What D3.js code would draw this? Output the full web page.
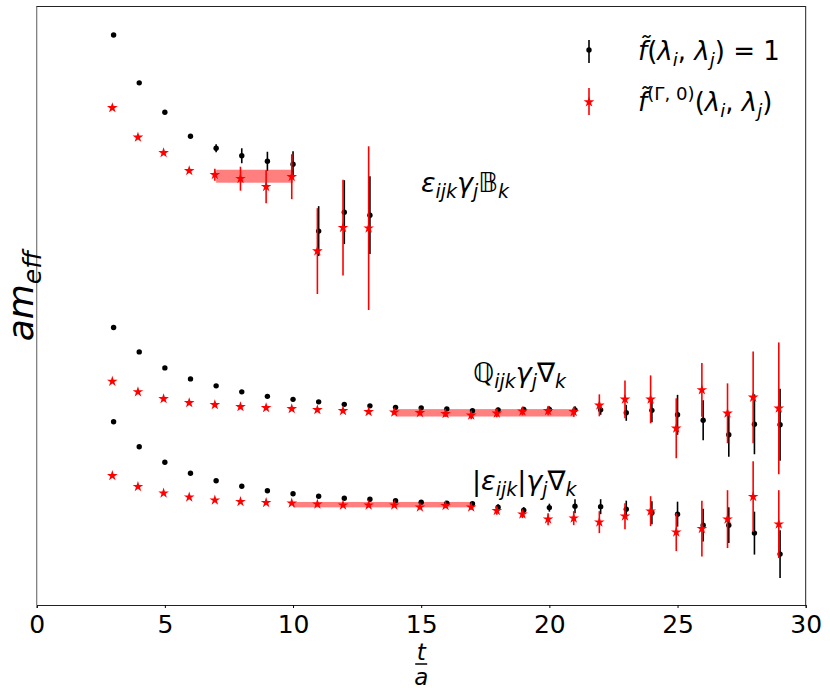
<!DOCTYPE html>
<html><head><meta charset="utf-8">
<script src="https://cdn.jsdelivr.net/npm/d3@7"></script>
<style>html,body{margin:0;padding:0;background:#fff;} svg{display:block;font-family:'DejaVu Sans',sans-serif;}</style>
</head><body>
<script>
// ---- data ----
const tB = [3,4,5,6,7,8,9,10,11,12,13];
const B_black = [1.442,1.346,1.287,1.239,1.215,1.200,1.189,1.183,1.049,1.087,1.081];
const B_black_err = [0.002,0.002,0.002,0.003,0.008,0.015,0.019,0.026,0.050,0.064,0.078];
const B_red = [1.296,1.237,1.206,1.170,1.162,1.154,1.138,1.158,1.009,1.056,1.055];
const B_red_err = [0.002,0.002,0.003,0.004,0.012,0.024,0.033,0.045,0.086,0.096,0.164];

const tQ = [3,4,5,6,7,8,9,10,11,12,13,14,15,16,17,18,19,20,21,22,23,24,25,26,27,28,29];
const Q_black = [0.856,0.807,0.775,0.753,0.739,0.727,0.718,0.712,0.707,0.702,0.699,0.696,0.695,0.693,0.689,0.691,0.692,0.692,0.691,0.691,0.685,0.690,0.681,0.670,0.641,0.662,0.661];
const Q_black_err = [0.001,0.001,0.001,0.001,0.001,0.001,0.001,0.002,0.002,0.002,0.002,0.002,0.003,0.003,0.004,0.004,0.005,0.006,0.007,0.010,0.016,0.024,0.040,0.040,0.044,0.060,0.072];
const Q_red = [0.748,0.727,0.713,0.705,0.701,0.697,0.695,0.693,0.691,0.689,0.687,0.686,0.685,0.683,0.680,0.684,0.688,0.689,0.687,0.700,0.712,0.712,0.654,0.731,0.684,0.716,0.694];
const Q_red_err = [0.001,0.001,0.001,0.001,0.002,0.002,0.002,0.003,0.003,0.003,0.004,0.004,0.005,0.006,0.008,0.008,0.008,0.009,0.010,0.022,0.038,0.048,0.060,0.054,0.060,0.092,0.132];

const tE = tQ;
const E_black = [0.667,0.617,0.586,0.564,0.549,0.538,0.529,0.523,0.518,0.514,0.512,0.509,0.506,0.504,0.503,0.496,0.490,0.495,0.498,0.497,0.492,0.485,0.482,0.460,0.460,0.444,0.402];
const E_black_err = [0.001,0.001,0.001,0.001,0.001,0.001,0.001,0.002,0.002,0.002,0.002,0.002,0.003,0.003,0.003,0.006,0.006,0.008,0.014,0.015,0.017,0.023,0.025,0.033,0.036,0.043,0.048];
const E_red = [0.559,0.537,0.524,0.516,0.510,0.507,0.505,0.504,0.502,0.500,0.500,0.500,0.496,0.499,0.496,0.489,0.482,0.472,0.474,0.466,0.478,0.488,0.446,0.453,0.472,0.517,0.462];
const E_red_err = [0.001,0.001,0.001,0.001,0.002,0.002,0.002,0.002,0.003,0.003,0.003,0.003,0.004,0.004,0.005,0.008,0.008,0.012,0.014,0.022,0.026,0.030,0.038,0.056,0.058,0.071,0.068];

const bandStart = [7,14,10];
const bandEnd = [10,21,17];
const bandMid = [1.159,0.685,0.501];
const bandHalf = [0.013,0.0074,0.0054];

const xTicks = [0,5,10,15,20,25,30];
const redShift = -0.05;

// ---- layout ----
const W = 830, H = 694;
const L = 36.7, R = 805.7, T = 6, B = 605;
const svg = d3.select("body").append("svg").attr("width", W).attr("height", H);
const x = d3.scaleLinear().domain([0,30]).range([L,R]);
const y = d3.scaleLinear().domain([0.30,1.50]).range([B,T]);

// bands
const bg = svg.append("g");
bandStart.forEach((s,i)=>{
  bg.append("rect").attr("x", x(s)).attr("width", x(bandEnd[i])-x(s))
    .attr("y", y(bandMid[i]+bandHalf[i])).attr("height", y(bandMid[i]-bandHalf[i])-y(bandMid[i]+bandHalf[i]))
    .attr("fill","#ff0000").attr("fill-opacity",0.5);
});

function starPath(R0){
  const r0 = R0*0.382; let p=[];
  for(let k=0;k<10;k++){const a=-Math.PI/2+k*Math.PI/5; const rr=k%2?r0:R0; p.push([rr*Math.cos(a), rr*Math.sin(a)]);}
  return "M"+p.map(d=>d[0].toFixed(2)+","+d[1].toFixed(2)).join("L")+"Z";
}
const STAR = starPath(5.6);

function series(ts, vals, errs, color, kind, dx){
  const g = svg.append("g");
  ts.forEach((t,i)=>{
    const cx = x(t+dx);
    g.append("line").attr("x1",cx).attr("x2",cx).attr("y1",y(vals[i]-errs[i])).attr("y2",y(vals[i]+errs[i]))
      .attr("stroke",color).attr("stroke-width",1.6);
  });
  ts.forEach((t,i)=>{
    const cx = x(t+dx), cy = y(vals[i]);
    if(kind==="dot") g.append("circle").attr("cx",cx).attr("cy",cy).attr("r",2.7).attr("fill",color);
    else g.append("path").attr("d",STAR).attr("transform",`translate(${cx},${cy})`).attr("fill",color);
  });
}
series(tB,B_black,B_black_err,"#000","dot",0);
series(tQ,Q_black,Q_black_err,"#000","dot",0);
series(tE,E_black,E_black_err,"#000","dot",0);
series(tB,B_red,B_red_err,"#ff0000","star",redShift);
series(tQ,Q_red,Q_red_err,"#ff0000","star",redShift);
series(tE,E_red,E_red_err,"#ff0000","star",redShift);

// frame
svg.append("line").attr("x1",L).attr("x2",L).attr("y1",T).attr("y2",B).attr("stroke","#777").attr("stroke-width",1.2);
svg.append("line").attr("x1",R).attr("x2",R).attr("y1",T).attr("y2",B).attr("stroke","#222").attr("stroke-width",1);
svg.append("line").attr("x1",L).attr("x2",R).attr("y1",T+0.5).attr("y2",T+0.5).attr("stroke","#222").attr("stroke-width",1);

// x axis
const ax = svg.append("g").attr("transform",`translate(0,${B})`)
  .call(d3.axisBottom(x).tickValues(xTicks).tickSize(3).tickPadding(7).tickFormat(d3.format("d")));
ax.select(".domain").attr("stroke","#222");
ax.selectAll("text").attr("font-size",25).attr("font-family","'DejaVu Sans'").attr("fill","#000");

// rich text helper
function rich(g, xx, yy, segs, fs){
  const t = g.append("text").attr("x",xx).attr("y",yy).attr("font-size",fs).attr("fill","#000");
  let cur = 0;
  segs.forEach(s=>{
    const target = s.sub ? fs*0.22 : (s.sup ? -fs*0.42 : 0);
    const sp = t.append("tspan").text(s.t).attr("dy", target-cur);
    cur = target;
    if(s.sub||s.sup) sp.attr("font-size", fs*0.7);
    if(s.i) sp.attr("font-style","italic");
  });
  return t;
}
const lab = svg.append("g");
rich(lab, 421, 192, [{t:"ε",i:1},{t:"ijk",i:1,sub:1},{t:"γ",i:1},{t:"j",i:1,sub:1},{t:"𝔹"},{t:"k",i:1,sub:1}], 27);
rich(lab, 473, 382, [{t:"ℚ"},{t:"ijk",i:1,sub:1},{t:"γ",i:1},{t:"j",i:1,sub:1},{t:"∇"},{t:"k",i:1,sub:1}], 27);
rich(lab, 472, 490, [{t:"|"},{t:"ε",i:1},{t:"ijk",i:1,sub:1},{t:"|"},{t:"γ",i:1},{t:"j",i:1,sub:1},{t:"∇"},{t:"k",i:1,sub:1}], 27);

// legend
const lg = svg.append("g");
lg.append("line").attr("x1",589).attr("x2",589).attr("y1",40).attr("y2",63).attr("stroke","#000").attr("stroke-width",1.6);
lg.append("circle").attr("cx",589).attr("cy",50).attr("r",2.7).attr("fill","#000");
lg.append("line").attr("x1",589).attr("x2",589).attr("y1",88).attr("y2",115).attr("stroke","#ff0000").attr("stroke-width",1.6);
lg.append("path").attr("d",STAR).attr("transform","translate(589,102)").attr("fill","#ff0000");
rich(lg, 638, 60, [{t:"f\u0303",i:1},{t:"("},{t:"λ",i:1},{t:"i",i:1,sub:1},{t:", "},{t:"λ",i:1},{t:"j",i:1,sub:1},{t:") = 1"}], 26);
rich(lg, 638, 111, [{t:"f\u0303",i:1},{t:"(Γ, 0)",sup:1},{t:"("},{t:"λ",i:1},{t:"i",i:1,sub:1},{t:", "},{t:"λ",i:1},{t:"j",i:1,sub:1},{t:")"}], 26);

// axis labels
const yl = svg.append("g").attr("transform","translate(33,296) rotate(-90)");
const ylt = yl.append("text").attr("text-anchor","middle").attr("font-size",36).attr("font-style","italic");
ylt.append("tspan").text("am");
ylt.append("tspan").text("eff").attr("font-size",25).attr("dy",8);

const xl = svg.append("g").attr("transform",`translate(${x(15)},0)`);
const xlt = xl.append("text").attr("text-anchor","middle").attr("font-size",23).attr("font-style","italic");
xlt.append("tspan").attr("x",0).attr("y",660).text("t");
xlt.append("tspan").attr("x",0).attr("dy",25).text("a");
xl.append("line").attr("x1",-6).attr("x2",6).attr("y1",664).attr("y2",664).attr("stroke","#000").attr("stroke-width",1.5);
</script>
</body></html>
